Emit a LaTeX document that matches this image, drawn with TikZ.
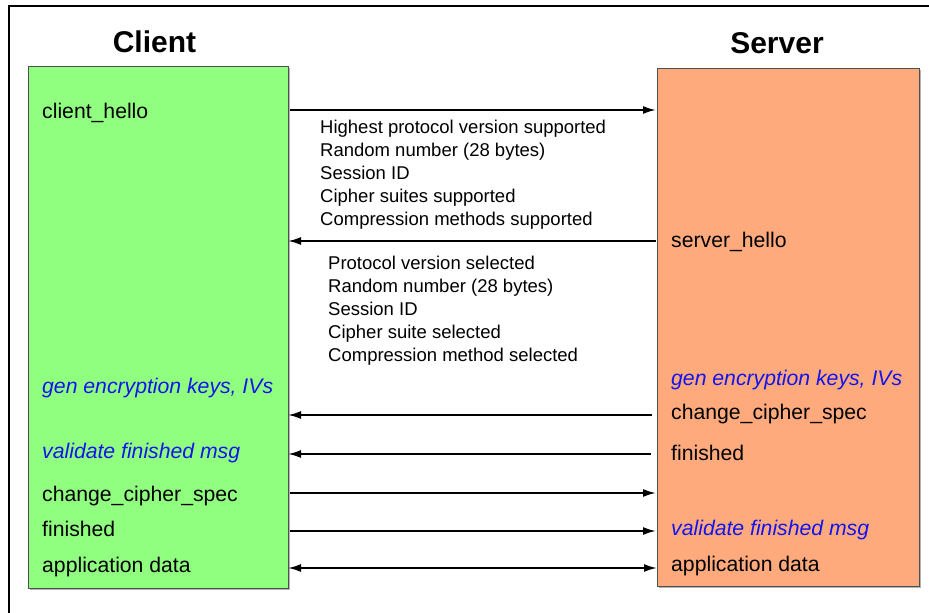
\documentclass[tikz,border=0pt]{standalone}
\usepackage{fontspec}
\setmainfont{Liberation Sans}
\usetikzlibrary{arrows.meta,shadows}
\definecolor{cgreen}{RGB}{144,255,128}
\definecolor{corange}{RGB}{255,170,125}
\definecolor{cblue}{RGB}{20,20,235}
\definecolor{cedge}{RGB}{80,80,80}
\tikzset{
  box/.style={draw=cedge, line width=1pt, inner sep=0pt, anchor=north west,
    drop shadow={shadow xshift=1.5pt, shadow yshift=-1.5pt, fill=gray!60, opacity=1}},
  title/.style={font=\fontsize{30}{34}\selectfont\bfseries, anchor=base, inner sep=0pt},
  lbl/.style={font=\fontsize{21.2}{25}\selectfont, anchor=base west, inner sep=0pt},
  act/.style={lbl, font=\fontsize{21.2}{25}\selectfont\itshape, text=cblue},
  info/.style={font=\fontsize{18.5}{23}\selectfont, anchor=base west, inner sep=0pt, align=left},
  arr/.style={line width=2pt, -{Latex[length=13pt,width=8pt]}},
  arrb/.style={line width=2pt, {Latex[length=13pt,width=8pt]}-{Latex[length=13pt,width=8pt]}}
}
\begin{document}
\begin{tikzpicture}[x=1pt,y=-1pt]
\useasboundingbox (0,0) rectangle (929,613);
% outer frame (left and top edges)
\coordinate (fbl) at (9,613);
\coordinate (ftl) at (9,6);
\coordinate (ftr) at (929,6);
\draw[line width=1.5pt] (fbl) -- (ftl) -- (ftr);
% boxes
\node[box, fill=cgreen, minimum width=260pt, minimum height=522pt] (client) at (28,66) {};
\node[box, fill=corange, minimum width=262pt, minimum height=518pt] (server) at (657,68) {};
% titles
\node[title] (tclient) at (154.5,52) {Client};
\node[title] (tserver) at (777,53) {Server};
% client labels
\node[lbl] (c1) at (42,118) {client\_hello};
\node[act] (c2) at (42,393) {gen encryption keys, IVs};
\node[act] (c3) at (42,458) {validate finished msg};
\node[lbl] (c4) at (42,501) {change\_cipher\_spec};
\node[lbl] (c5) at (42,536) {finished};
\node[lbl] (c6) at (42,572) {application data};
% server labels
\node[lbl] (s1) at (671,247) {server\_hello};
\node[act] (s2) at (671,385) {gen encryption keys, IVs};
\node[lbl] (s3) at (671,419) {change\_cipher\_spec};
\node[lbl] (s4) at (671,460) {finished};
\node[act] (s5) at (671,535) {validate finished msg};
\node[lbl] (s6) at (671,571) {application data};
% info blocks (base anchor = last line)
\node[info] (i1) at (320,225) {Highest protocol version supported\\Random number (28 bytes)\\Session ID\\Cipher suites supported\\Compression methods supported};
\node[info] (i2) at (328,361) {Protocol version selected\\Random number (28 bytes)\\Session ID\\Cipher suite selected\\Compression method selected};
% arrow end points
\coordinate (a1l) at (290,110);   \coordinate (a1r) at (656,110);
\coordinate (a2l) at (288,241);   \coordinate (a2r) at (656,241);
\coordinate (a3l) at (288,415);   \coordinate (a3r) at (652,415);
\coordinate (a4l) at (288,454);   \coordinate (a4r) at (651,454);
\coordinate (a5l) at (290,493);   \coordinate (a5r) at (656,493);
\coordinate (a6l) at (290,531);   \coordinate (a6r) at (656,531);
\coordinate (a7l) at (288,568);   \coordinate (a7r) at (657,568);
\draw[arr] (a1l) -- (a1r);
\draw[arr] (a2r) -- (a2l);
\draw[arr] (a3r) -- (a3l);
\draw[arr] (a4r) -- (a4l);
\draw[arr] (a5l) -- (a5r);
\draw[arr] (a6l) -- (a6r);
\draw[arrb] (a7l) -- (a7r);
\end{tikzpicture}
\end{document}
